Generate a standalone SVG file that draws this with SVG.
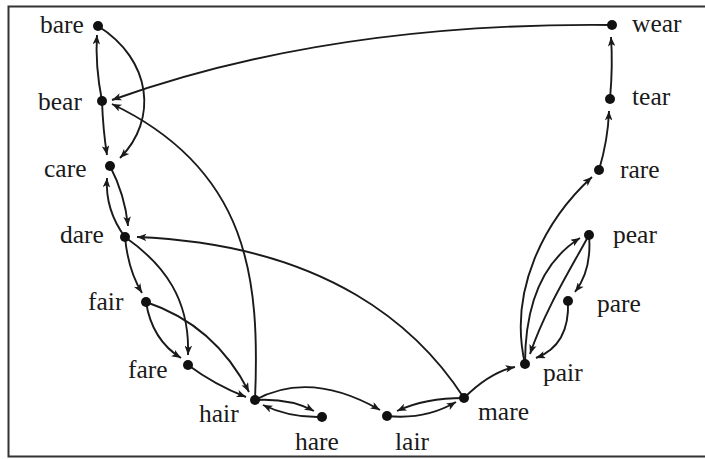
<svg xmlns="http://www.w3.org/2000/svg" width="705" height="459" viewBox="0 0 705 459">
<style>
.e{fill:none;stroke:#1a1a1a;stroke-width:1.9;marker-end:url(#ah)}
.d{fill:#111}
.t{font-family:"Liberation Serif","Times New Roman",serif;font-size:25.5px;fill:#1a1a1a}
.f{fill:none;stroke:#333;stroke-width:2}
</style>
<defs>
<marker id="ah" viewBox="0 0 10 8" refX="10" refY="4" markerWidth="11" markerHeight="7.5" orient="auto" markerUnits="userSpaceOnUse">
<path d="M0,0 L10,4 L0,8 L2.5,4 Z" fill="#1a1a1a"/>
</marker>
</defs>
<rect width="705" height="459" fill="#fff"/>
<path class="f" d="M705,6.5 H8.5 V456.5 H705"/>
<g id="connectors">
<path class="e" d="M102,101 Q95,65 97,35"/>
<path class="e" d="M102,101 Q103,130 107,155"/>
<path class="e" d="M98,26 C152,60 158,120 120,158"/>
<path class="e" d="M612,25 Q330,22 112,100"/>
<path class="e" d="M255,400 C260,280 250,170 112,104"/>
<path class="e" d="M110,166 Q125,195 128,226"/>
<path class="e" d="M125,237 Q105,210 107,178"/>
<path class="e" d="M464,398 C420,330 330,245 137,237"/>
<path class="e" d="M125,237 Q128,270 142,293"/>
<path class="e" d="M125,237 C165,265 190,300 188,355"/>
<path class="e" d="M146,302 Q152,340 181,358"/>
<path class="e" d="M146,302 Q215,325 249,392"/>
<path class="e" d="M188,365 Q215,385 246,397"/>
<path class="e" d="M255,400 Q290,398 314,411"/>
<path class="e" d="M322,417 Q290,418 263,405"/>
<path class="e" d="M255,400 Q310,370 380,410"/>
<path class="e" d="M464,398 Q425,398 397,411"/>
<path class="e" d="M387,416 Q425,420 456,402"/>
<path class="e" d="M464,398 Q490,372 515,367"/>
<path class="e" d="M525,364 C508,290 545,220 592,177"/>
<path class="e" d="M525,364 C525,300 545,260 580,238"/>
<path class="e" d="M589,235 C570,270 545,310 530,354"/>
<path class="e" d="M589,235 Q592,270 575,292"/>
<path class="e" d="M568,301 Q570,345 536,358"/>
<path class="e" d="M599,170 Q608,140 609,111"/>
<path class="e" d="M610,99 Q613,65 611,37"/>
</g>
<g id="bare"><circle class="d" cx="98" cy="26" r="5"/><text class="t" x="40" y="33">bare</text></g>
<g id="bear"><circle class="d" cx="102" cy="101" r="5"/><text class="t" x="38" y="110">bear</text></g>
<g id="care"><circle class="d" cx="110" cy="166" r="5"/><text class="t" x="44" y="177">care</text></g>
<g id="dare"><circle class="d" cx="125" cy="237" r="5"/><text class="t" x="60" y="243">dare</text></g>
<g id="fair"><circle class="d" cx="146" cy="302" r="5"/><text class="t" x="88" y="310">fair</text></g>
<g id="fare"><circle class="d" cx="188" cy="365" r="5"/><text class="t" x="128" y="378">fare</text></g>
<g id="hair"><circle class="d" cx="255" cy="400" r="5"/><text class="t" x="199" y="422">hair</text></g>
<g id="hare"><circle class="d" cx="322" cy="417" r="5"/><text class="t" x="295" y="450">hare</text></g>
<g id="lair"><circle class="d" cx="387" cy="416" r="5"/><text class="t" x="395" y="450">lair</text></g>
<g id="mare"><circle class="d" cx="464" cy="398" r="5"/><text class="t" x="478" y="420">mare</text></g>
<g id="pair"><circle class="d" cx="525" cy="364" r="5"/><text class="t" x="543" y="381">pair</text></g>
<g id="pare"><circle class="d" cx="568" cy="301" r="5"/><text class="t" x="597" y="312">pare</text></g>
<g id="pear"><circle class="d" cx="589" cy="235" r="5"/><text class="t" x="613" y="243">pear</text></g>
<g id="rare"><circle class="d" cx="599" cy="170" r="5"/><text class="t" x="620" y="178">rare</text></g>
<g id="tear"><circle class="d" cx="610" cy="99" r="5"/><text class="t" x="632" y="105">tear</text></g>
<g id="wear"><circle class="d" cx="612" cy="25" r="5"/><text class="t" x="632" y="32">wear</text></g>
</svg>
